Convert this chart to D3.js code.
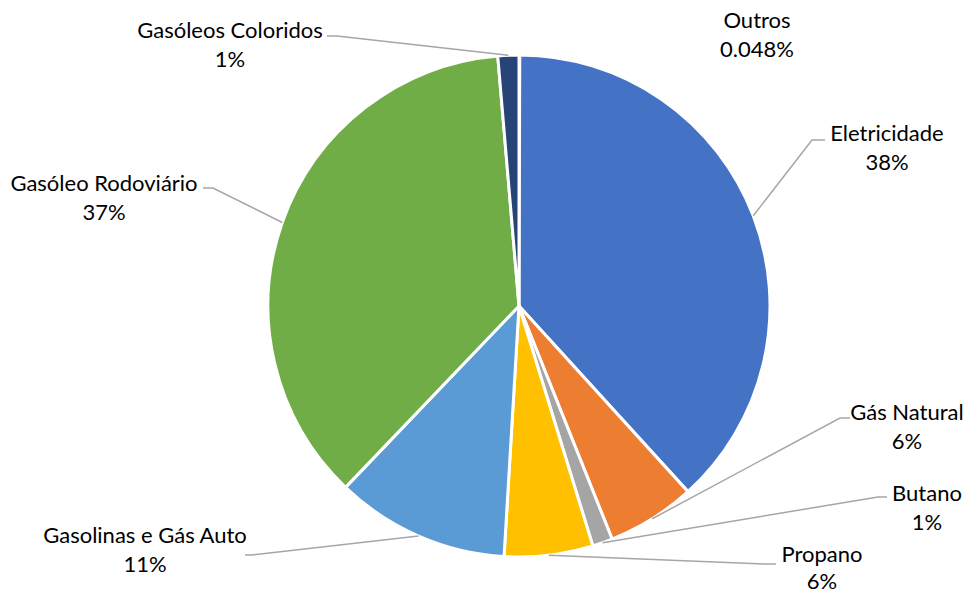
<!DOCTYPE html>
<html><head><meta charset="utf-8">
<script src="https://cdn.jsdelivr.net/npm/d3@7"></script>
<style>body{margin:0;background:#fff}svg{display:block}</style>
</head><body>
<script>
const categories = ["Outros","Eletricidade","Gás Natural","Butano","Propano","Gasolinas e Gás Auto","Gasóleo Rodoviário","Gasóleos Coloridos"];
const values = [0.048, 38.2, 5.7, 1.3, 5.7, 11.2, 36.5, 1.35];
const pctLabels = ["0.048%","38%","6%","1%","6%","11%","37%","1%"];
const colors = ["#9E480E","#4472C4","#ED7D31","#A5A5A5","#FFC000","#5B9BD5","#70AD47","#264478"];

const W = 971, H = 594, cx = 519, cy = 306, R = 251;
// label layout: [centerX, firstLineY, lineGap, elbowX, elbowY, tailX] (no elbow = no leader)
const layout = {
  "Outros": [757, 20, 29, null],
  "Eletricidade": [887, 133, 29, 812, 140, 825],
  "Gás Natural": [907, 412, 29, 840, 418, 850],
  "Butano": [927, 493, 29, 878, 497, 887],
  "Propano": [822, 554, 27, 764, 564, 776],
  "Gasolinas e Gás Auto": [145, 535, 29, 252, 555, 245],
  "Gasóleo Rodoviário": [104, 183, 29, 213, 188, 203],
  "Gasóleos Coloridos": [230, 30, 29, 337, 36, 327]
};

const svg = d3.select("body").append("svg").attr("width", W).attr("height", H);
const data = categories.map((c, i) => ({name: c, value: values[i], label: pctLabels[i], color: colors[i]}));
const pie = d3.pie().value(d => d.value).sort(null).startAngle(0).endAngle(2 * Math.PI);
const arcs = pie(data);
const arc = d3.arc().innerRadius(0).outerRadius(R);

const g = svg.append("g").attr("transform", `translate(${cx},${cy})`);
g.selectAll("path").data(arcs).join("path")
  .attr("d", arc)
  .attr("fill", d => d.data.color)
  .attr("stroke", "#fff")
  .attr("stroke-width", 3)
  .attr("stroke-linejoin", "round");

// leader lines
arcs.forEach(a => {
  const L = layout[a.data.name];
  if (L[3] == null) return;
  const mid = (a.startAngle + a.endAngle) / 2;
  const sx = cx + R * Math.sin(mid), sy = cy - R * Math.cos(mid);
  svg.append("polyline")
    .attr("points", `${sx},${sy} ${L[3]},${L[4]} ${L[5]},${L[4]}`)
    .attr("fill", "none").attr("stroke", "#A6A6A6").attr("stroke-width", 1.5);
});

// labels
arcs.forEach(a => {
  const L = layout[a.data.name];
  const t = svg.append("text")
    .attr("x", L[0]).attr("y", L[1])
    .attr("text-anchor", "middle")
    .attr("font-family", "Lato, 'Open Sans', sans-serif")
    .attr("font-size", 22)
    .attr("fill", "#000");
  t.append("tspan").attr("x", L[0]).attr("dy", "0.35em").text(a.data.name);
  t.append("tspan").attr("x", L[0]).attr("dy", L[2]).text(a.data.label);
});
</script>
</body></html>
